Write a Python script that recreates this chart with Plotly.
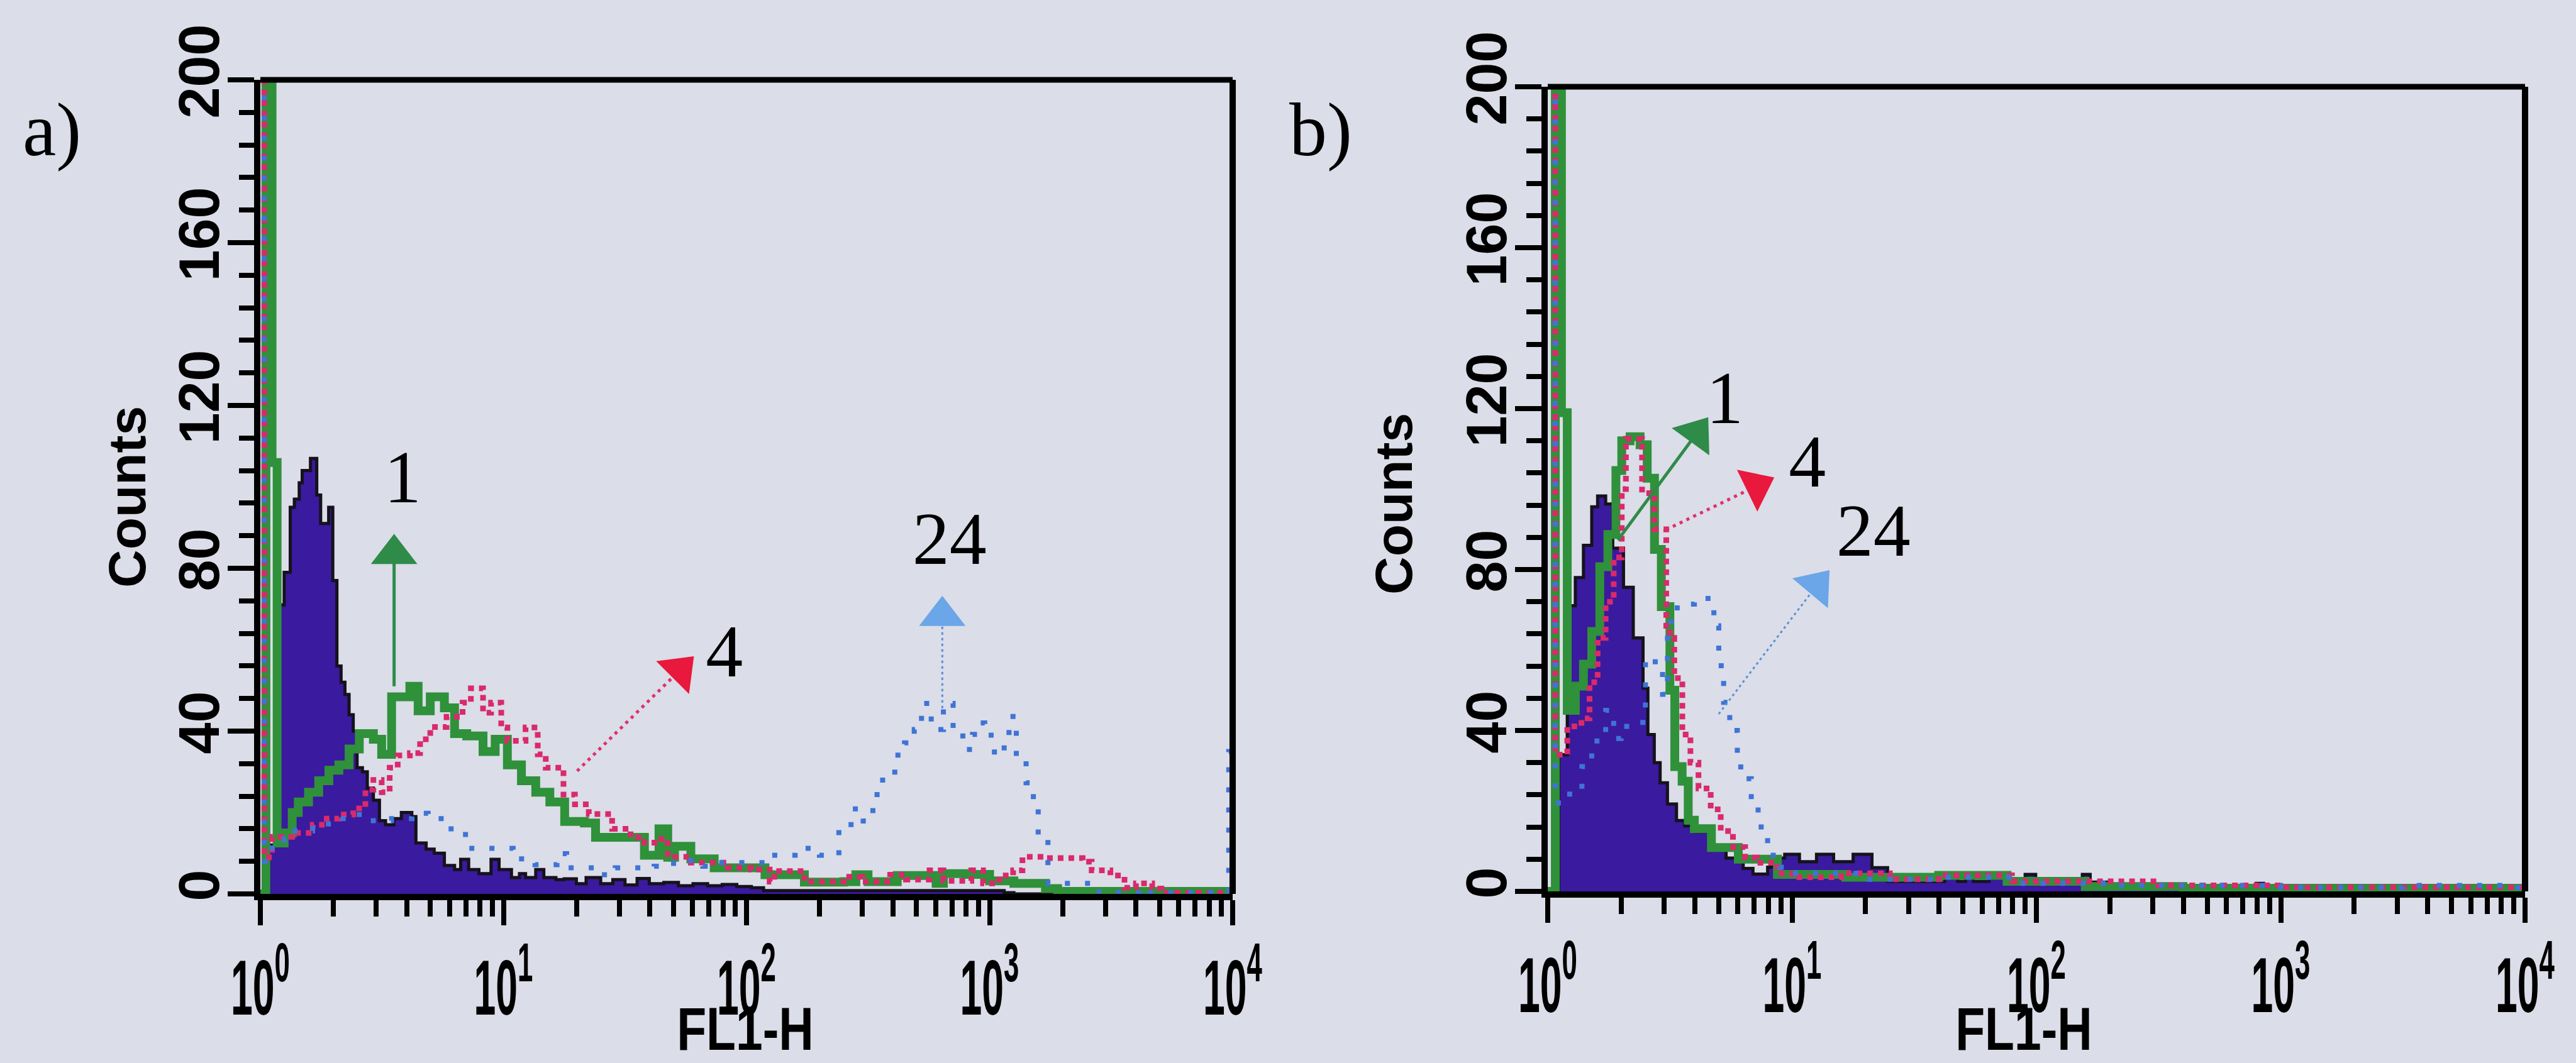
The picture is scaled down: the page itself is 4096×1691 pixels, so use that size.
import plotly.graph_objects as go

# ---------------- data (FL1-H channel start value, counts) : step histograms ----------------
# Panel a
a_ctrl_x = [1.0, 1.084, 1.172, 1.253, 1.327, 1.380, 1.445, 1.486, 1.607, 1.706, 1.770, 1.910, 1.986, 2.065,
            2.148, 2.228, 2.317, 2.410, 2.500, 2.630, 2.754, 2.917, 3.090, 3.273, 3.540, 3.802, 4.198, 4.365,
            4.808, 5.188, 5.715, 6.295, 6.668, 7.194, 7.925, 8.892, 9.594, 10.79, 11.64, 12.33, 13.58, 14.66,
            16.44, 17.78, 19.95, 21.88, 25.12, 28.18, 31.62, 35.48, 39.81, 45.71, 52.48, 60.26, 69.18, 79.43,
            91.20, 104.7, 117.5, 316.2, 1148, 1259, 10000]
a_ctrl_y = [0, 12, 71, 79, 95, 97, 101, 104, 107, 98, 91, 95, 77, 56,
            52, 49, 44, 40, 31, 30, 26, 23, 18, 17, 18.5, 20, 19, 12.5,
            11, 10, 7, 6, 8.5, 6, 5, 8.5, 6, 4, 5, 4, 6, 4,
            3.5, 3.7, 2.5, 4, 2.5, 3.5, 2.2, 3.8, 2.5, 2.8, 2.0, 2.5, 2.0, 2.3,
            1.8, 1.5, 0.8, 0.8, 0.3, 0, 0]

a_1h_x = [1.0, 1.054, 1.117, 1.172, 1.253, 1.352, 1.432, 1.578, 1.738, 1.914, 2.104, 2.317, 2.553, 2.917,
          3.155, 3.467, 4.121, 4.457, 5.000, 5.715, 6.295, 7.063, 8.241, 9.247, 10.38, 11.86, 13.58, 15.52,
          17.86, 21.53, 23.93, 38.02, 43.65, 47.42, 50.58, 59.02, 73.62, 119.1, 173.0, 251.2, 281.8, 316.2,
          416.9, 602.6, 645.7, 794.3, 1000, 1259, 1698, 1905, 10000]
a_1h_y = [0, 215, 106, 12.5, 15, 20, 22.6, 25, 27.8, 30.4, 31.7, 35.6, 39.4, 38,
          34.3, 48.4, 51, 45, 48.4, 45.7, 39.4, 38.8, 35, 38, 31.7, 27.8, 25, 22.6,
          17.8, 17.4, 13.9, 9.5, 16, 9, 11.7, 8.6, 6.4, 4.7, 2.9, 3.0, 4.7, 3.0,
          4.5, 2.6, 5.0, 4.8, 3.2, 2.6, 1.3, 0.6, 0.6]

a_4h_x = [1.0, 1.038, 1.117, 1.352, 1.641, 1.875, 2.104, 2.410, 2.704, 2.917, 3.155, 3.404, 3.673, 4.121,
          4.539, 5.000, 5.834, 6.792, 7.345, 8.241, 8.892, 9.795, 10.38, 12.33, 13.84, 14.93, 17.66, 19.68,
          22.44, 27.99, 33.34, 38.02, 43.45, 47.42, 59.02, 83.95, 104.5, 124.5, 130.0, 173.0, 251.2, 299.9,
          389.9, 452.9, 566.2, 645.7, 841.4, 939.7, 1096, 1250, 1365, 1698, 2415, 2630, 3141, 3589,
          4000, 4667, 5093, 10000]
a_4h_y = [215, 9, 14, 15, 17, 18.5, 19.5, 21, 25.6, 28, 25, 31, 34, 34.6,
          38, 41, 43.5, 47, 50.5, 44.5, 47, 40.9, 37.6, 40.9, 34.3, 31, 24.4, 22,
          19.6, 16, 13.9, 12.6, 13.5, 9.1, 7.7, 6.4, 6.0, 3.0, 5.6, 3.0, 4.2, 3.0,
          4.7, 3.5, 5.8, 3.2, 5.8, 2.6, 4.5, 5.8, 9.1, 8.8, 7.9, 5.8, 4.5, 1.5,
          2.6, 1.3, 0.3, 0.3]

a_24h_x = [1.0, 1.038, 1.117, 1.253, 1.352, 1.641, 1.986, 2.317, 2.704, 3.467, 4.207, 4.898, 5.834, 6.310,
           7.413, 10.96, 13.49, 16.60, 18.20, 25.12, 28.84, 41.69, 50.12, 66.07, 75.86, 125.9, 158.5, 199.5,
           239.9, 269.2, 302.0, 331.1, 363.1, 407.4, 446.7, 489.8, 524.8, 575.4, 645.7, 707.9, 776.2, 851.1,
           891.3, 955.0, 1047, 1148, 1202, 1288, 1413, 1514, 1585, 1738, 2818, 4169, 4571, 9638, 10000]
a_24h_y = [215, 8, 12.5, 13.5, 15.5, 17.2, 18.5, 19.5, 18, 18.5, 19.8, 18.5, 16, 14.6,
           11.2, 8.6, 7.2, 9.9, 6.4, 4.7, 6.4, 6.8, 8.2, 6.8, 7.7, 9.5, 11.2, 9.5,
           16, 20.9, 17.9, 24.4, 29.3, 34.1, 37.1, 40.4, 46.8, 40.4, 46.8, 40.4, 35.5, 39.2,
           42, 39, 34.1, 37.1, 43.6, 33.8, 27.3, 20.8, 14.3, 2.6, 0.3, 1.3, 0.3, 35, 35]

# Panel b
b_ctrl_x = [1.0, 1.109, 1.202, 1.297, 1.400, 1.514, 1.600, 1.726, 1.845, 2.042, 2.239, 2.455, 2.570, 2.729,
            2.884, 3.090, 3.365, 3.631, 4.046, 4.786, 5.370, 6.310, 6.918, 7.943, 8.710, 9.333, 10.72, 12.59,
            14.79, 17.78, 21.23, 24.60, 42.17, 47.64, 51.29, 55.21, 63.97, 75.86, 89.95, 99.31, 154.2, 166.0,
            197.2, 794.3, 851.1, 10000]
b_ctrl_y = [0, 34, 71, 78, 86, 95.6, 98.3, 96.3, 85.3, 75.6, 63, 50.5, 39, 32,
            27, 21.7, 17.6, 16.3, 14.8, 11, 8.3, 5.7, 4.3, 6, 8.3, 9.2, 7.4, 9.2,
            7.4, 9.2, 5.9, 2.5, 4.4, 2.5, 4.4, 2.5, 4.4, 2.3, 4.2, 2.3, 4.2, 2.3,
            1.2, 2.0, 0.5, 0.5]

b_1h_x = [1.0, 1.074, 1.138, 1.202, 1.297, 1.400, 1.514, 1.633, 1.762, 1.901, 2.009, 2.173, 2.388, 2.553,
          2.735, 2.917, 3.162, 3.311, 3.548, 3.758, 3.981, 4.677, 6.026, 8.710, 16.60, 39.81, 75.86, 158.5,
          398.1, 10000]
b_1h_y = [0, 215, 119, 45, 51, 56.5, 64.6, 80.7, 88.7, 104.6, 112, 113, 111, 102.7,
          85, 70.8, 50, 31, 27.4, 17.7, 15.6, 10.9, 8, 4.2, 3.5, 4.0, 2.5, 1.2,
          0.8, 0.8]

b_4h_x = [1.0, 1.074, 1.202, 1.374, 1.483, 1.600, 1.726, 1.862, 2.009, 2.089, 2.432, 2.729, 3.055, 3.162,
          3.296, 3.556, 3.837, 4.140, 4.645, 5.105, 5.728, 6.427, 7.194, 8.710, 10.0, 15.85, 25.12, 39.81,
          79.43, 316.2, 1000, 10000]
b_4h_y = [215, 34, 41, 43, 52, 63, 72, 83, 100, 112.5, 99, 90, 66, 63,
          53, 39, 32, 25.6, 20.4, 15, 11, 8.4, 7.1, 4.4, 3.5, 4.5, 3, 4,
          2.5, 1.5, 1.0, 1.0]

b_24h_x = [1.0, 1.074, 1.230, 1.380, 1.514, 1.726, 1.862, 1.995, 2.291, 2.512, 2.754, 2.951, 3.090, 3.388,
           3.981, 4.786, 5.012, 5.129, 5.248, 5.559, 5.970, 6.166, 6.808, 7.261, 7.943, 8.913, 10.0, 19.95,
           39.81, 79.43, 199.5, 1000, 3162, 8913, 10000]
b_24h_y = [215, 22, 25.5, 31, 37.4, 45, 38, 41, 42, 58, 55, 49, 67, 71.4,
           72.8, 66, 59, 53, 47, 40, 34, 28, 22, 16, 9, 6, 4.5, 3,
           3.5, 2.0, 1.5, 1.0, 1.5, 1.0, 1.0]

# Arrow call-outs (hours after treatment): tail on curve, head near the label
hours = ["1", "4", "24"]
a_tail_x = [3.55, 20.1, 639]
a_tail_y = [51, 30.2, 45.6]
a_head_x = [3.55, 53.1, 639]
a_head_y = [83.5, 54.9, 68.3]
a_label_x = [3.85, 81.0, 684]
a_label_y = [100.8, 58.0, 85.6]

b_tail_x = [1.936, 3.05, 5.01]
b_tail_y = [87.3, 89.9, 44.1]
b_head_x = [4.06, 7.13, 12.6]
b_head_y = [113.8, 100.7, 76.0]
b_label_x = [5.3, 11.55, 21.5]
b_label_y = [121.0, 105.3, 88.0]

x_tick_vals = [1, 10, 100, 1000, 10000]
x_tick_text = ["10<sup>0</sup>", "10<sup>1</sup>", "10<sup>2</sup>", "10<sup>3</sup>", "10<sup>4</sup>"]
y_tick_vals = [0, 40, 80, 120, 160, 200]
y_tick_text = ["0", "40", "80", "120", "160", "200"]

# ---------------- styles ----------------
W, H = 4096, 1691
BG = "#dbdde8"
SERIF = "Liberation Serif, Times New Roman, serif"
SANS = "Liberation Sans, Arial, sans-serif"
FILL = "#3a1a9e"
OUTLINE = "#15121c"
GREEN = "#2f913a"
PINK = "#d92a6b"
BLUE = "#3f74d6"
HEAD_COLORS = ["#2e8b48", "#e8193c", "#6aa6e8"]
SHAFT = [dict(color="#2e8b48", width=5), dict(color="#e0306a", width=5, dash="5px,7px"),
         dict(color="#5a8fd8", width=3, dash="4px,5px")]
a_angles = [0, 45, 0]
b_angles = [36, 64, 40]

fig = go.Figure()


def add_panel(xa, ya, cx, cy, gx, gy, px, py, bx, by, tx, ty, hx, hy, lx, ly, angles):
    common = dict(xaxis=xa, yaxis=ya, showlegend=False, hoverinfo="skip")
    fig.add_trace(go.Scatter(x=cx, y=cy, mode="lines", fill="tozeroy", fillcolor=FILL,
                             line=dict(shape="hv", color=OUTLINE, width=5), **common))
    fig.add_trace(go.Scatter(x=gx, y=gy, mode="lines",
                             line=dict(shape="hv", color=GREEN, width=14), **common))
    fig.add_trace(go.Scatter(x=px, y=py, mode="lines",
                             line=dict(shape="hv", color=PINK, width=9, dash="9px,8px"), **common))
    fig.add_trace(go.Scatter(x=bx, y=by, mode="lines",
                             line=dict(shape="hv", color=BLUE, width=8, dash="8px,24px"), **common))
    for i in range(3):
        fig.add_trace(go.Scatter(x=[tx[i], hx[i]], y=[ty[i], hy[i]], mode="lines",
                                 line=SHAFT[i], **common))
        fig.add_trace(go.Scatter(x=[hx[i]], y=[hy[i]], mode="markers", cliponaxis=False,
                                 marker=dict(symbol="triangle-up", size=64, angle=angles[i],
                                             color=HEAD_COLORS[i], line=dict(width=0)), **common))
    fig.add_trace(go.Scatter(x=lx, y=ly, mode="text", text=hours, textposition="middle center",
                             cliponaxis=False,
                             textfont=dict(family=SERIF, size=118, color="black"), **common))


add_panel("x", "y", a_ctrl_x, a_ctrl_y, a_1h_x, a_1h_y, a_4h_x, a_4h_y, a_24h_x, a_24h_y,
          a_tail_x, a_tail_y, a_head_x, a_head_y, a_label_x, a_label_y, a_angles)
add_panel("x2", "y2", b_ctrl_x, b_ctrl_y, b_1h_x, b_1h_y, b_4h_x, b_4h_y, b_24h_x, b_24h_y,
          b_tail_x, b_tail_y, b_head_x, b_head_y, b_label_x, b_label_y, b_angles)

x_minor = [m * 10 ** d for d in range(4) for m in range(2, 10)]


def xaxis_cfg(domain, anchor):
    return dict(type="log", range=[0, 4], domain=domain, anchor=anchor, automargin=False,
                showline=True, linecolor="black", linewidth=10, mirror=False,
                ticks="outside", ticklen=40, tickwidth=8, tickcolor="black",
                tickvals=x_tick_vals, ticktext=x_tick_text, ticklabelstandoff=-8,
                ticklabeloverflow="allow",
                tickfont=dict(family=SANS, size=125, color="black", weight="bold"),
                minor=dict(ticks="outside", ticklen=26, tickwidth=8, tickcolor="black",
                           tickvals=x_minor, showgrid=False),
                showgrid=False, zeroline=False, fixedrange=True)


def yaxis_cfg(domain, anchor):
    return dict(range=[0, 200], domain=domain, anchor=anchor, automargin=False,
                showline=True, linecolor="black", linewidth=10, mirror=False,
                ticks="outside", ticklen=42, tickwidth=8, tickcolor="black",
                tickvals=y_tick_vals, ticktext=y_tick_text, tickangle=-90, ticklabelstandoff=-22,
                ticklabeloverflow="allow",
                tickfont=dict(family=SANS, size=90, color="black", weight="bold"),
                minor=dict(ticks="outside", ticklen=24, tickwidth=8, tickcolor="black",
                           tick0=0, dtick=8, showgrid=False),
                showgrid=False, zeroline=False, fixedrange=True)


# frame: top and right edges of each plot box
shapes = []
for xr, yr in [("x domain", "y domain"), ("x2 domain", "y2 domain")]:
    shapes.append(dict(type="line", xref=xr, yref=yr, x0=0, x1=1, y0=1, y1=1,
                       line=dict(color="black", width=9), layer="above"))
    shapes.append(dict(type="line", xref=xr, yref=yr, x0=1, x1=1, y0=0, y1=1,
                       line=dict(color="black", width=10), layer="above"))

ann = []
for x_px, y_px, txt in [(82, 207, "a)"), (2100, 207, "b)")]:
    ann.append(dict(x=x_px / W, y=1 - y_px / H, xref="paper", yref="paper", text=txt, showarrow=False,
                    xanchor="center", yanchor="middle",
                    font=dict(family=SERIF, size=120, color="black")))
for x_px, y_px in [(202, 791), (2216, 802)]:
    ann.append(dict(x=x_px / W, y=1 - y_px / H, xref="paper", yref="paper", text="Counts", showarrow=False,
                    textangle=-90, xanchor="center", yanchor="middle",
                    font=dict(family=SANS, size=84, color="black", weight="bold")))
for x_px in [1185, 3218]:
    ann.append(dict(x=x_px / W, y=0, xref="paper", yref="paper", text="FL1-H", showarrow=False,
                    xanchor="center", yanchor="bottom", borderpad=0,
                    font=dict(family=SANS, size=96, color="black", weight="bold")))

fig.update_layout(
    width=W, height=H, autosize=False,
    margin=dict(l=0, r=0, t=0, b=0, pad=0),
    paper_bgcolor=BG, plot_bgcolor=BG,
    showlegend=False,
    xaxis=xaxis_cfg([414 / W, 1960 / W], "y"),
    yaxis=yaxis_cfg([1 - 1422 / H, 1 - 127 / H], "x"),
    xaxis2=xaxis_cfg([2461 / W, 4015 / W], "y2"),
    yaxis2=yaxis_cfg([1 - 1418 / H, 1 - 138 / H], "x2"),
    shapes=shapes,
    annotations=ann,
)

# The instrument's axis font is strongly condensed: squeeze the x-axis texts horizontally.
post_js = """
var gd = document.getElementById('{plot_id}');
function squeezeText() {
  gd.querySelectorAll('g.xtick > text, g.x2tick > text').forEach(function (t) {
    var tr = t.getAttribute('transform') || '';
    if (tr.indexOf('scale(') === -1) {
      var x = parseFloat(t.getAttribute('x') || '0') || 0;
      t.setAttribute('transform', tr + ' translate(' + x + ',0) scale(0.5,1) translate(' + (-x) + ',0)');
    }
  });
  gd.querySelectorAll('text.annotation-text').forEach(function (t) {
    if (t.textContent === 'FL1-H') {
      t.style.transformBox = 'fill-box';
      t.style.transformOrigin = 'center';
      t.style.transform = 'scaleX(0.8)';
    }
  });
}
squeezeText();
if (gd.on) { gd.on('plotly_afterplot', squeezeText); }
"""

fig.write_html("out.html", post_script=post_js)
